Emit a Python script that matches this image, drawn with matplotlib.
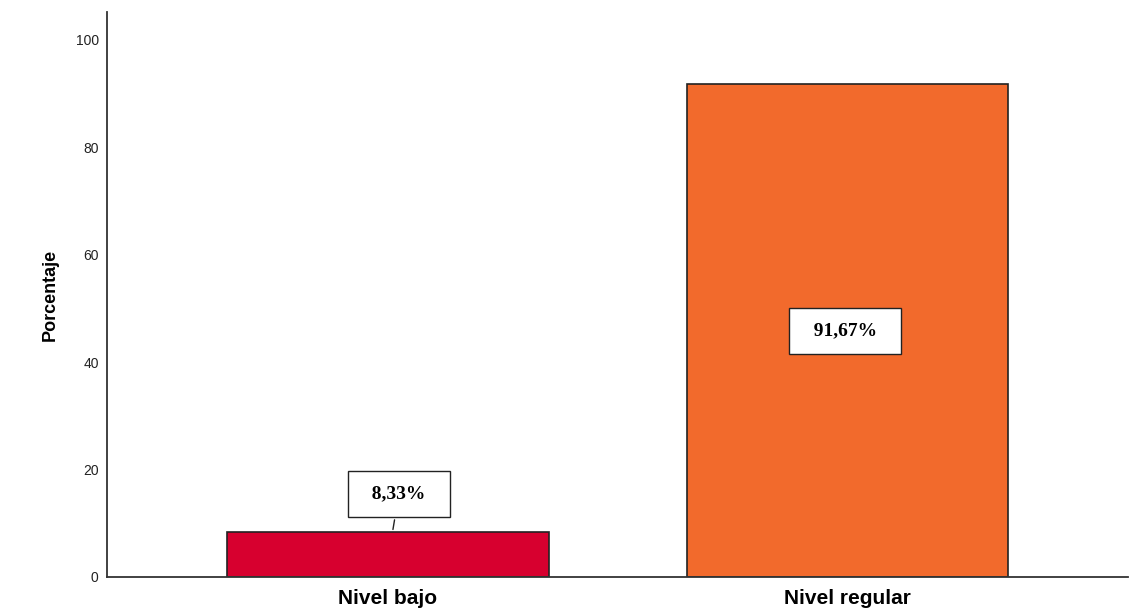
import matplotlib.pyplot as plt

categorias = ['Nivel bajo', 'Nivel regular']
porcentajes = [8.33, 91.67]
etiquetas = ['8,33%', '91,67%']
colores = ['#D7002F', '#F26A2C']

fig = plt.figure(figsize=(11.4, 6.14), dpi=100)
ax = fig.add_axes([0.0939, 0.0603, 0.8955, 0.9197])

x = list(range(len(categorias)))
ax.bar(x, porcentajes, width=0.7, color=colores, edgecolor='#222222', linewidth=1.2)

caja = dict(boxstyle='square,pad=0.74', fc='white', ec='#222222', lw=1)
# caja de la etiqueta: encima de la barra baja, en el medio de la alta
ax.annotate('  ' + etiquetas[0] + '  ', xy=(x[0] + 0.01, porcentajes[0]), xytext=(x[0] + 0.024, 15.5),
            ha='center', va='center', fontsize=14, fontweight='bold', family='Liberation Serif',
            bbox=caja, arrowprops=dict(arrowstyle='-', color='#222222', lw=1))
ax.text(x[1] - 0.005, porcentajes[1] / 2, '  ' + etiquetas[1] + '  ', ha='center', va='center',
        fontsize=14, fontweight='bold', family='Liberation Serif', bbox=caja)

ax.set_xlim(-0.611, 1.61)
ax.set_ylim(0, 105.1)
ax.set_yticks([0, 20, 40, 60, 80, 100])
ax.set_xticks(x)
ax.set_xticklabels(categorias, fontsize=15, fontweight='bold', family='Liberation Sans')
for t in ax.get_yticklabels():
    t.set_family('Liberation Sans')
    t.set_fontsize(10)
ax.tick_params(axis='both', length=0)
ax.tick_params(axis='y', pad=6, colors='#222222')
ax.tick_params(axis='x', pad=9)
ax.set_ylabel('Porcentaje', fontsize=13, fontweight='bold', family='Liberation Sans', labelpad=12)

ax.spines['top'].set_visible(False)
ax.spines['right'].set_visible(False)
for s in ['left', 'bottom']:
    ax.spines[s].set_color('#333333')
    ax.spines[s].set_linewidth(1.3)

fig.savefig('out.png', dpi=100)
